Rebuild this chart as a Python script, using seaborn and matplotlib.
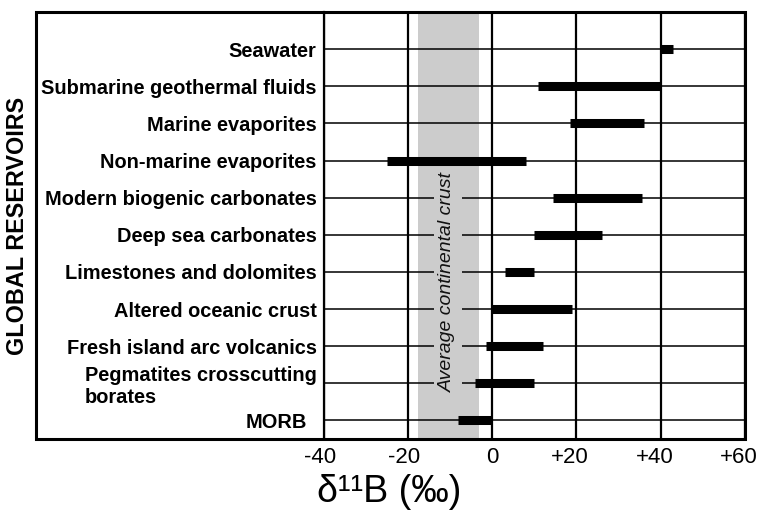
import matplotlib
matplotlib.use("Agg")
import matplotlib.pyplot as plt
import matplotlib.transforms as mtransforms
from matplotlib.patches import Rectangle
import numpy as np
import pandas as pd
import seaborn as sns

# Boron isotope ranges (delta 11B, permil) of global reservoirs
reservoirs = [
    "Seawater",
    "Submarine geothermal fluids",
    "Marine evaporites",
    "Non-marine evaporites",
    "Modern biogenic carbonates",
    "Deep sea carbonates",
    "Limestones and dolomites",
    "Altered oceanic crust",
    "Fresh island arc volcanics",
    "Pegmatites crosscutting\nborates",
    "MORB",
]
d11b_low = [40, 11, 18.5, -25, 14.5, 10, 3, 0, -1.5, -4, -8]
d11b_high = [43, 40, 36, 8, 35.5, 26, 10, 19, 12, 10, 0]
crust_band = (-17.5, -3.2)
x_ticks = [-40, -20, 0, 20, 40, 60]
x_tick_labels = ["-40", "-20", "0", "+20", "+40", "+60"]

sns.set_style("white")
plt.rcParams["font.family"] = ["Liberation Sans", "DejaVu Sans"]
plt.rcParams["text.color"] = "black"
plt.rcParams["xtick.color"] = "black"
plt.rcParams["ytick.color"] = "black"
plt.rcParams["xtick.labelcolor"] = "black"
plt.rcParams["ytick.labelcolor"] = "black"

pos = np.arange(len(reservoirs))
df = pd.DataFrame({
    "reservoir": np.repeat(reservoirs, 2),
    "pos": np.repeat(pos, 2),
    "d11B": np.column_stack([d11b_low, d11b_high]).ravel(),
})

W, H = 759, 513
fig = plt.figure(figsize=(W / 100, H / 100), dpi=100)
ax = fig.add_axes([323.5 / W, 1 - 439 / H, (745 - 323.5) / W, (439 - 12) / H])

# shaded band for average continental crust
ax.axvspan(*crust_band, color="#cccccc", lw=0, zorder=0.1)

# range bars
sns.lineplot(data=df, x="d11B", y="pos", units="reservoir", estimator=None,
             sort=False, color="black", lw=6.5, solid_capstyle="butt",
             legend=False, ax=ax, zorder=4)

ax.set_xlim(-40, 60)
ax.set_ylim(10.5, -1)
ax.set_xticks(x_ticks, x_tick_labels)
ax.set_yticks(pos, reservoirs)
ax.set_xlabel("")
ax.set_ylabel("")

ax.set_axisbelow(True)
ax.xaxis.grid(True, color="black", lw=1.6)
ax.yaxis.grid(True, color="black", lw=1.1)

ax.tick_params(axis="both", length=0)
ax.tick_params(axis="x", labelsize=16, pad=6)
ax.tick_params(axis="y", labelsize=14.4, pad=5)
for lab in ax.get_yticklabels():
    lab.set_fontweight("bold")
ylabels = ax.get_yticklabels()
ylabels[9].set_multialignment("left")
ylabels[10].set_transform(ylabels[10].get_transform()
                          + mtransforms.ScaledTranslation(-0.1, 0, fig.dpi_scale_trans))

# centre the digits on the gridline, letting the sign hang to the left
for lab in ax.get_xticklabels():
    txt = lab.get_text()
    if txt.startswith("+"):
        shift = -0.064
    elif txt.startswith("-"):
        shift = -0.037
    else:
        continue
    lab.set_transform(lab.get_transform()
                      + mtransforms.ScaledTranslation(shift, 0, fig.dpi_scale_trans))

for side in ("top", "right", "bottom"):
    ax.spines[side].set_visible(False)
ax.spines["left"].set_color("black")
ax.spines["left"].set_linewidth(1.6)

ax.text(-10.5, 6.28, "Average continental crust", rotation=90, ha="center",
        va="center", style="italic", fontsize=14, color="#111111", zorder=3,
        bbox=dict(facecolor="#cccccc", edgecolor="none", pad=4))

# outer frame around labels and plot
fig.add_artist(Rectangle((36 / W, 1 - 439 / H), (745 - 36) / W, (439 - 12) / H,
                         transform=fig.transFigure, fill=False, lw=2.2,
                         ec="black", zorder=10))

fig.text(17.5 / W, 1 - 226 / H, "GLOBAL RESERVOIRS", rotation=90, fontsize=16.8,
         fontweight="bold", ha="center", va="center")
fig.text(389 / W, 1 - 492 / H, "δ¹¹B (‰)", fontsize=27, ha="center", va="center")

fig.savefig("out.png", dpi=100)
